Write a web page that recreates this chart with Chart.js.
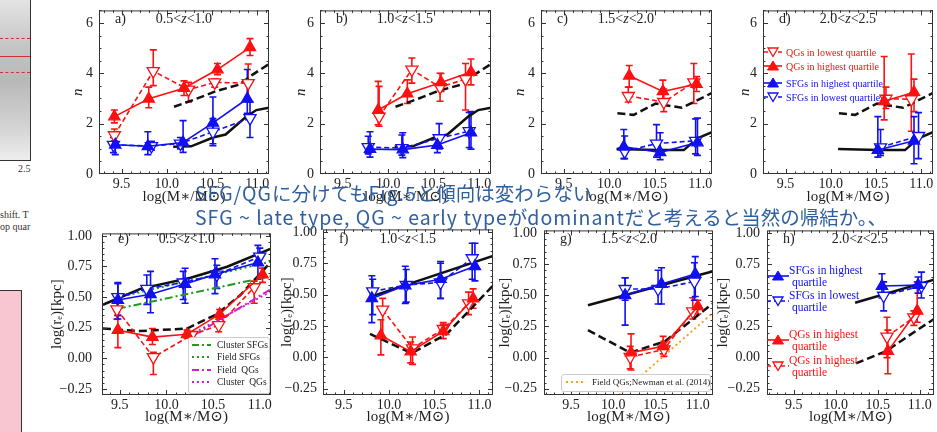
<!DOCTYPE html>
<html>
<head>
<meta charset="utf-8">
<title>Sersic index and size vs stellar mass</title>
<script src="https://cdn.jsdelivr.net/npm/chart.js@4.4.1/dist/chart.umd.min.js"></script>
<style>
  body { margin: 0; background: #fff; }
  #page { position: relative; width: 937px; height: 432px; overflow: hidden; font-family: "Liberation Serif", "DejaVu Serif", serif; color: #222; }
  #page canvas { position: absolute; }
  .tag { position: absolute; font-size: 14px; line-height: 14px; white-space: nowrap; }
  .leg { position: absolute; white-space: nowrap; }
  .row { position: absolute; display: flex; align-items: center; }
  .note { position: absolute; left: 195px; font-family: "Noto Sans CJK JP", sans-serif; font-size: 19.5px; line-height: 22px; color: #2f5f9f; white-space: nowrap; }
  .note .lat { letter-spacing: 1px; }
  .side { position: absolute; font-size: 10px; color: #333; white-space: nowrap; }
</style>
</head>
<body>
<div id="page"></div>
<script>
// tick labels
const massTicks = [9.5, 10.0, 10.5, 11.0];
const nTicks = [0, 2, 4, 6];
const reTicks = [-0.25, 0, 0.25, 0.5, 0.75, 1.0];

// rows: [log M*, value, lower, upper]
// Sersic index n
const a_qgHigh = [[9.42, 2.28, 2.03, 2.54], [9.80, 2.99, 2.63, 3.45], [10.19, 3.41, 3.12, 3.70], [10.56, 4.15, 3.95, 4.39], [10.92, 5.03, 4.71, 5.38]];
const a_qgLow = [[9.42, 1.54, 1.32, 1.79], [9.85, 4.09, 3.51, 4.93], [10.24, 3.35, 2.86, 3.64], [10.53, 3.64, 3.45, 3.77], [10.90, 3.61, 2.86, 4.37]];
const a_sfgHigh = [[9.43, 1.16, 0.77, 1.64], [9.79, 1.10, 0.77, 1.68], [10.18, 1.25, 0.86, 2.12], [10.51, 2.03, 1.12, 3.06], [10.89, 2.99, 2.41, 4.15]];
const a_sfgLow = [[9.41, 1.16, 0.85, 1.45], [9.83, 1.11, 0.95, 1.30], [10.15, 1.21, 1.00, 1.45], [10.51, 1.68, 1.20, 2.20], [10.92, 2.22, 1.45, 2.86]];

const b_qgHigh = [[9.89, 2.54, 1.95, 3.68], [10.21, 3.19, 2.80, 3.74], [10.58, 3.64, 3.28, 3.99], [10.91, 4.05, 3.54, 4.57]];
const b_qgLow = [[9.90, 2.28, 1.90, 3.48], [10.26, 4.15, 3.61, 4.61], [10.57, 3.45, 2.89, 4.00], [10.85, 3.77, 2.54, 4.39]];
const b_sfgHigh = [[9.80, 0.99, 0.67, 1.68], [10.16, 0.97, 0.65, 1.64], [10.54, 1.15, 0.85, 1.55], [10.91, 1.64, 0.99, 2.48]];
const b_sfgLow = [[9.78, 1.07, 0.80, 1.50], [10.15, 1.03, 0.75, 1.55], [10.56, 1.42, 1.00, 2.00], [10.89, 1.70, 1.05, 2.45]];

const c_qgHigh = [[10.22, 3.90, 3.45, 4.31], [10.59, 3.28, 2.86, 3.73], [10.96, 3.57, 3.28, 3.87]];
const c_qgLow = [[10.21, 3.10, 2.86, 3.45], [10.60, 2.86, 2.48, 3.38], [10.93, 3.64, 2.80, 4.39]];
const c_sfgHigh = [[10.16, 1.08, 0.61, 1.77], [10.56, 0.86, 0.57, 1.64], [10.97, 1.25, 0.74, 2.22]];
const c_sfgLow = [[10.17, 0.90, 0.61, 1.51], [10.52, 1.21, 0.67, 1.96], [10.95, 1.32, 0.80, 2.19]];

const d_qgHigh = [[10.59, 2.89, 2.15, 4.67], [10.92, 3.25, 2.48, 3.77]];
const d_qgLow = [[10.61, 2.99, 2.60, 3.45], [10.89, 2.97, 1.70, 4.77]];
const d_sfgHigh = [[10.52, 0.95, 0.67, 2.28], [10.92, 1.32, 0.41, 2.28]];
const d_sfgLow = [[10.55, 1.06, 0.74, 1.77], [10.97, 1.51, 0.61, 2.44]];

// reference relations for n
const nLate_ab = [[10.07, 1.08], [10.27, 1.10], [10.51, 1.45], [10.65, 1.57], [10.88, 2.28], [10.99, 2.54], [11.13, 2.63]];
const nEarly_ab = [[10.08, 2.67], [10.30, 2.95], [10.55, 3.30], [10.80, 3.55], [10.95, 3.95], [11.13, 4.37]];
const nLate_cd = [[10.08, 0.99], [10.52, 0.95], [10.82, 0.95], [10.97, 1.42], [11.14, 1.68]];
const nEarly_cd = [[10.09, 2.41], [10.27, 2.35], [10.51, 2.80], [10.80, 2.63], [11.14, 3.24]];

// log(re)
const e_qgHigh = [[9.48, 0.23, 0.087, 0.35], [9.85, 0.173, 0.113, 0.243], [10.22, 0.196, 0.165, 0.23], [10.57, 0.36, 0.32, 0.398], [11.03, 0.684, 0.62, 0.736]];
const e_qgLow = [[9.47, 0.40, 0.32, 0.45], [9.86, 0.009, -0.133, 0.048], [10.27, 0.19, 0.17, 0.21], [10.56, 0.27, 0.217, 0.32], [10.94, 0.58, 0.45, 0.63]];
const e_sfgHigh = [[9.48, 0.476, 0.321, 0.619], [9.83, 0.523, 0.372, 0.71], [10.20, 0.606, 0.45, 0.735], [10.52, 0.684, 0.528, 0.813], [10.98, 0.782, 0.645, 0.922]];
const e_sfgLow = [[9.48, 0.50, 0.35, 0.61], [9.79, 0.567, 0.44, 0.68], [10.18, 0.619, 0.48, 0.71], [10.54, 0.684, 0.57, 0.76], [11.00, 0.83, 0.76, 0.90]];

const f_qgHigh = [[9.91, 0.174, 0.02, 0.30], [10.24, 0.046, -0.044, 0.123], [10.60, 0.208, 0.149, 0.277], [10.93, 0.469, 0.392, 0.546]];
const f_qgLow = [[9.93, 0.38, 0.15, 0.47], [10.26, 0.072, -0.056, 0.162], [10.60, 0.226, 0.187, 0.264], [10.88, 0.431, 0.341, 0.52]];
const f_sfgHigh = [[9.81, 0.47, 0.277, 0.65], [10.18, 0.572, 0.43, 0.726], [10.57, 0.623, 0.469, 0.764], [10.95, 0.726, 0.61, 0.91]];
const f_sfgLow = [[9.82, 0.526, 0.341, 0.623], [10.19, 0.577, 0.44, 0.70], [10.57, 0.597, 0.47, 0.75], [10.92, 0.79, 0.623, 0.91]];

const g_qgHigh = [[10.21, 0.04, -0.10, 0.19], [10.59, 0.09, 0.03, 0.17], [11.00, 0.41, 0.35, 0.46]];
const g_qgLow = [[10.20, 0.005, -0.09, 0.09], [10.60, 0.065, 0.01, 0.13], [10.94, 0.37, 0.31, 0.48]];
const g_sfgHigh = [[10.14, 0.50, 0.26, 0.64], [10.57, 0.59, 0.43, 0.72], [10.97, 0.67, 0.49, 0.81]];
const g_sfgLow = [[10.14, 0.55, 0.46, 0.64], [10.53, 0.55, 0.43, 0.70], [10.96, 0.61, 0.46, 0.76]];

const h_qgHigh = [[10.62, 0.052, -0.13, 0.22], [10.97, 0.375, 0.284, 0.607]];
const h_qgLow = [[10.61, 0.168, 0.0, 0.323], [10.93, 0.323, 0.258, 0.375]];
const h_sfgHigh = [[10.55, 0.574, 0.478, 0.672], [10.98, 0.581, 0.517, 0.646]];
const h_sfgLow = [[10.57, 0.496, 0.375, 0.607], [11.02, 0.574, 0.478, 0.685]];

// reference relations for re
const reLate_e = [[9.32, 0.437], [9.72, 0.567], [10.26, 0.658], [10.65, 0.748], [11.12, 0.896]];
const reEarly_e = [[9.32, 0.243], [9.72, 0.222], [10.22, 0.243], [10.54, 0.36], [10.79, 0.515], [11.12, 0.787]];
const clusterSfg_e = [[9.48, 0.404], [11.12, 0.671]];
const fieldSfg_e = [[9.48, 0.497], [11.12, 0.79]];
const fieldQg_e = [[10.30, 0.19], [11.12, 0.565]];
const clusterQg_e = [[10.30, 0.21], [11.12, 0.545]];
const reLate_f = [[9.79, 0.482], [11.15, 0.808]];
const reEarly_f = [[9.79, 0.187], [10.25, 0.033], [10.64, 0.187], [11.15, 0.572]];
const reLate_g = [[9.70, 0.42], [11.17, 0.69]];
const reEarly_g = [[9.70, 0.22], [10.20, 0.04], [10.61, 0.13], [11.17, 0.43]];
const newman_g = [[10.07, -0.30], [11.18, 0.36]];
const reLate_h = [[10.23, 0.44], [11.17, 0.625]];
const reEarly_h = [[10.24, -0.047], [10.60, 0.052], [10.88, 0.18], [11.17, 0.31]];

const RED = '#ff1010', BLUE = '#1010f0', BLACK = '#111111';
const GREEN = '#1e9a1e', MAGENTA = '#d020d0', ORANGE = '#f5a31a';
const SERIF = '"Liberation Serif", "DejaVu Serif", serif';
const page = document.getElementById('page');

const solid = (d) => ({ d: d, c: BLACK, w: 2.5, dash: [] });
const dashed = (d) => ({ d: d, c: BLACK, w: 2.5, dash: [8, 4] });

// yw: width left of the frame, tp: gap between tick labels and frame
const panels = [
  { tag: 'a)', z: ['0.5', '1.0'], kind: 'n', box: [99, 6, 269, 174], yw: 32, tp: 6, xr: [9.25, 11.13], s: [a_qgHigh, a_qgLow, a_sfgHigh, a_sfgLow], lines: [solid(nLate_ab), dashed(nEarly_ab)] },
  { tag: 'b)', z: ['1.0', '1.5'], kind: 'n', box: [320, 6, 491, 174], yw: 30, tp: 6, xr: [9.25, 11.13], s: [b_qgHigh, b_qgLow, b_sfgHigh, b_sfgLow], lines: [solid(nLate_ab), dashed(nEarly_ab)] },
  { tag: 'c)', z: ['1.5', '2.0'], kind: 'n', box: [541, 6, 712, 174], yw: 32, tp: 6, xr: [9.25, 11.13], s: [c_qgHigh, c_qgLow, c_sfgHigh, c_sfgLow], lines: [solid(nLate_cd), dashed(nEarly_cd)] },
  { tag: 'd)', z: ['2.0', '2.5'], kind: 'n', box: [763, 6, 933, 174], yw: 29, tp: 6, xr: [9.25, 11.13], s: [d_qgHigh, d_qgLow, d_sfgHigh, d_sfgLow], lines: [solid(nLate_cd), dashed(nEarly_cd)] },
  { tag: 'e)', z: ['0.5', '1.0'], kind: 're', box: [102, 225, 271, 395], yw: 56, tp: 10, xr: [9.31, 11.12], s: [e_qgHigh, e_qgLow, e_sfgHigh, e_sfgLow],
    lines: [solid(reLate_e), dashed(reEarly_e),
      { d: clusterSfg_e, c: GREEN, w: 2, dash: [8, 3, 2, 3] }, { d: fieldSfg_e, c: GREEN, w: 2, dash: [2, 3] },
      { d: fieldQg_e, c: MAGENTA, w: 2, dash: [8, 3, 2, 3] }, { d: clusterQg_e, c: MAGENTA, w: 2, dash: [2, 3] }] },
  { tag: 'f)', z: ['1.0', '1.5'], kind: 're', box: [323, 225, 493, 395], yw: 47, tp: 6, xr: [9.27, 11.15], s: [f_qgHigh, f_qgLow, f_sfgHigh, f_sfgLow], lines: [solid(reLate_f), dashed(reEarly_f)] },
  { tag: 'g)', z: ['1.5', '2.0'], kind: 're', box: [544, 225, 713, 395], yw: 50, tp: 7, xr: [9.18, 11.18], s: [g_qgHigh, g_qgLow, g_sfgHigh, g_sfgLow],
    lines: [solid(reLate_g), dashed(reEarly_g), { d: newman_g, c: ORANGE, w: 2, dash: [2, 3] }] },
  { tag: 'h)', z: ['2.0', '2.5'], kind: 're', box: [767, 225, 934, 395], yw: 55, tp: 7, xr: [9.18, 11.17], s: [h_qgHigh, h_qgLow, h_sfgHigh, h_sfgLow], lines: [solid(reLate_h), dashed(reEarly_h)], zoff: 93 }
];

// error bars, frame and inward ticks
const panelDecor = {
  id: 'panelDecor',
  beforeDatasetsDraw(chart, args, opts) {
    const { ctx, chartArea: a, scales: { x, y } } = chart;
    ctx.save();
    ctx.beginPath();
    ctx.rect(a.left, a.top, a.right - a.left, a.bottom - a.top);
    ctx.clip();
    ctx.lineWidth = 1.6;
    opts.errs.forEach(e => {
      ctx.strokeStyle = e.color;
      e.rows.forEach(r => {
        const px = x.getPixelForValue(r[0]);
        const lo = y.getPixelForValue(r[2]), hi = y.getPixelForValue(r[3]);
        ctx.beginPath();
        ctx.moveTo(px, lo); ctx.lineTo(px, hi);
        ctx.moveTo(px - 3.5, lo); ctx.lineTo(px + 3.5, lo);
        ctx.moveTo(px - 3.5, hi); ctx.lineTo(px + 3.5, hi);
        ctx.stroke();
      });
    });
    ctx.restore();
  },
  afterDraw(chart, args, opts) {
    const { ctx, chartArea: a, scales: { x, y } } = chart;
    ctx.save();
    ctx.strokeStyle = '#333';
    ctx.lineWidth = 1;
    ctx.beginPath();
    const tick = (v, len, axis) => {
      if (axis === 'x') {
        const p = Math.round(x.getPixelForValue(v)) + 0.5;
        if (p <= a.left || p >= a.right) return;
        ctx.moveTo(p, a.bottom); ctx.lineTo(p, a.bottom - len);
        ctx.moveTo(p, a.top); ctx.lineTo(p, a.top + len);
      } else {
        const p = Math.round(y.getPixelForValue(v)) + 0.5;
        if (p <= a.top || p >= a.bottom) return;
        ctx.moveTo(a.left, p); ctx.lineTo(a.left + len, p);
        ctx.moveTo(a.right, p); ctx.lineTo(a.right - len, p);
      }
    };
    for (let i = 90; i <= 112; i++) tick(i / 10, i % 5 === 0 ? 5 : 2.5, 'x');
    if (opts.kind === 'n') {
      for (let i = 0; i <= 13; i++) tick(i / 2, i % 4 === 0 ? 5 : 2.5, 'y');
    } else {
      for (let i = -6; i <= 20; i++) tick(i / 20, i % 5 === 0 ? 5 : 2.5, 'y');
    }
    ctx.stroke();
    ctx.strokeRect(a.left + 0.5, a.top + 0.5, a.right - a.left - 1, a.bottom - a.top - 1);
    ctx.restore();
  }
};

function markerSet(rows, color, open, order) {
  return {
    data: rows.map(r => ({ x: r[0], y: r[1] })),
    borderColor: color,
    backgroundColor: open ? '#fff' : color,
    borderWidth: 1.6,
    borderDash: open ? [5, 3] : [],
    pointStyle: 'triangle',
    pointRotation: open ? 180 : 0,
    pointRadius: open ? 7 : 6.5,
    pointBorderWidth: 1.3,
    pointBorderColor: color,
    pointBackgroundColor: open ? '#fff' : color,
    tension: 0,
    order: order
  };
}

function makePanel(p) {
  const isN = p.kind === 'n';
  const YW = p.yw, XH = isN ? 34 : 33, PT = 10, PR = 14;
  const [l, t, r, b] = p.box;
  const cv = document.createElement('canvas');
  const w = r - l + YW + PR, h = b - t + PT + XH;
  cv.width = w; cv.height = h;
  cv.style.left = (l - YW) + 'px';
  cv.style.top = (t - PT) + 'px';
  cv.style.width = w + 'px';
  cv.style.height = h + 'px';
  page.appendChild(cv);

  const [qgHigh, qgLow, sfgHigh, sfgLow] = p.s;
  const datasets = [
    markerSet(qgHigh, RED, false, 1),
    markerSet(sfgHigh, BLUE, false, 1),
    markerSet(qgLow, RED, true, 2),
    markerSet(sfgLow, BLUE, true, 2)
  ];
  p.lines.forEach(ln => datasets.push({
    data: ln.d.map(q => ({ x: q[0], y: q[1] })),
    borderColor: ln.c, borderWidth: ln.w, borderDash: ln.dash,
    pointRadius: 0, tension: 0, order: 10
  }));

  new Chart(cv, {
    type: 'line',
    data: { datasets: datasets },
    options: {
      responsive: false,
      animation: false,
      devicePixelRatio: 1,
      layout: { padding: { top: PT, right: PR, left: 0, bottom: 0 } },
      plugins: {
        legend: { display: false },
        tooltip: { enabled: false },
        panelDecor: {
          kind: p.kind,
          errs: [
            { rows: qgHigh, color: RED }, { rows: qgLow, color: RED },
            { rows: sfgHigh, color: BLUE }, { rows: sfgLow, color: BLUE }
          ]
        }
      },
      scales: {
        x: {
          type: 'linear', min: p.xr[0], max: p.xr[1],
          grid: { display: false, drawTicks: false }, border: { display: false },
          afterBuildTicks: s => { s.ticks = massTicks.map(v => ({ value: v })); },
          afterFit: s => { s.height = XH; },
          ticks: { font: { family: SERIF, size: 14 }, color: '#222', padding: 2, maxRotation: 0, autoSkip: false, callback: v => v.toFixed(1) },
          title: { display: true, text: 'log(M\u2217/M\u2299)', font: { family: SERIF, size: 15 }, color: '#222', padding: { top: 0, bottom: 2 } }
        },
        y: {
          type: 'linear', min: isN ? 0 : -0.30, max: isN ? 6.5 : 1.02,
          grid: { display: false, drawTicks: false }, border: { display: false },
          afterBuildTicks: s => { s.ticks = (isN ? nTicks : reTicks).map(v => ({ value: v })); },
          afterFit: s => { s.width = YW; },
          ticks: {
            font: { family: SERIF, size: 14 }, color: '#222', padding: p.tp, autoSkip: false,
            callback: v => isN ? String(v) : (v < 0 ? '\u2212' : '') + Math.abs(v).toFixed(2)
          },
          title: {
            display: true, text: isN ? 'n' : 'log(r\u2091)[kpc]',
            font: { family: SERIF, size: 15, style: isN ? 'italic' : 'normal' }, color: '#222', padding: { top: 2, bottom: 0 }
          }
        }
      }
    },
    plugins: [panelDecor]
  });

  const tg = document.createElement('div');
  tg.className = 'tag';
  tg.style.left = (l + 16) + 'px';
  tg.style.top = (t + (isN ? 6 : 7)) + 'px';
  tg.textContent = p.tag;
  page.appendChild(tg);

  const zr = document.createElement('div');
  zr.className = 'tag';
  zr.style.left = (l + (p.zoff || 85)) + 'px';
  zr.style.top = (t + (isN ? 6 : 7)) + 'px';
  zr.style.transform = 'translateX(-50%)';
  zr.innerHTML = p.z[0] + '&lt;<i>z</i>&lt;' + p.z[1];
  page.appendChild(zr);
}

panels.forEach(makePanel);

// legends
function glyph(color, open, dash, w) {
  const cx = w / 2;
  const tri = open
    ? `<polygon points="${cx - 5},2 ${cx + 5},2 ${cx},10.5" fill="#fff" stroke="${color}" stroke-width="1.3"/>`
    : `<polygon points="${cx},1 ${cx + 5.5},10 ${cx - 5.5},10" fill="${color}" stroke="${color}" stroke-width="1"/>`;
  return `<svg width="${w}" height="12" style="flex:none"><line x1="0" y1="6" x2="${w}" y2="6" stroke="${color}" stroke-width="1.6" ${dash ? 'stroke-dasharray="4 3"' : ''}/>${tri}</svg>`;
}
function lineGlyph(color, dash, w) {
  return `<svg width="${w}" height="8" style="flex:none"><line x1="0" y1="4" x2="${w}" y2="4" stroke="${color}" stroke-width="2" stroke-dasharray="${dash}"/></svg>`;
}
function addRow(html, left, top, size, color) {
  const d = document.createElement('div');
  d.className = 'row';
  d.style.left = left + 'px';
  d.style.top = top + 'px';
  d.style.fontSize = size + 'px';
  d.style.color = color;
  d.innerHTML = html;
  page.appendChild(d);
  return d;
}

// panel d
[
  ['QGs in lowest quartile', RED, true, 46],
  ['QGs in highest quartile', RED, false, 60],
  ['SFGs in highest quartile', BLUE, false, 77],
  ['SFGs in lowest quartile', BLUE, true, 91]
].forEach(r => addRow(glyph(r[1], r[2], r[2], 18) + `<span style="margin-left:4px">${r[0]}</span>`, 764, r[3], 10, r[1]));

// panel h
[
  ['SFGs in highest', BLUE, false, 264],
  ['SFGs in lowest', BLUE, true, 289],
  ['QGs in highest', RED, false, 328],
  ['QGs in highest', RED, true, 354]
].forEach(r => {
  addRow(glyph(r[1], r[2], r[2], 22) + `<span style="margin-left:0px;line-height:12px">${r[0]}<br>&nbsp;quartile</span>`, 767, r[3], 11.5, r[1]);
});

// panel e
const legE = document.createElement('div');
legE.className = 'leg';
Object.assign(legE.style, { left: '188px', top: '337px', width: '80px', height: '55px', background: 'rgba(255,255,255,0.9)', border: '1px solid #ccc', borderRadius: '3px' });
page.appendChild(legE);
[
  ['Cluster SFGs', GREEN, '7 3 2 3', 340],
  ['Field SFGs', GREEN, '2 3', 352],
  ['Field\u00a0 QGs', MAGENTA, '7 3 2 3', 365],
  ['Cluster\u00a0 QGs', MAGENTA, '2 3', 377]
].forEach(r => addRow(lineGlyph(r[1], r[2], 19) + `<span style="margin-left:6px;color:#222">${r[0]}</span>`, 192, r[3], 9.5, '#222'));

// panel g
const legG = document.createElement('div');
legG.className = 'leg';
Object.assign(legG.style, { left: '561px', top: '374px', width: '148px', height: '16px', background: 'rgba(255,255,255,0.9)', border: '1px solid #ccc', borderRadius: '3px' });
page.appendChild(legG);
addRow(lineGlyph(ORANGE, '2 3', 20) + '<span style="margin-left:6px;color:#222">Field QGs;Newman et al. (2014)</span>', 566, 377, 9, '#222');

// strip of the neighbouring figure on the left
const strip = [
  'left:0;top:0;width:30px;height:160px;background:linear-gradient(to bottom,#e4e4e4,#c4c4c4 30%,#b8b8b8 50%,#d4d4d4 80%,#eeeeee);border-right:1px solid #333;border-bottom:1px solid #333',
  'left:0;top:38px;width:30px;height:0;border-top:1.5px dashed #d23030',
  'left:0;top:56px;width:30px;height:0;border-top:1.5px solid #d23030',
  'left:0;top:72px;width:30px;height:0;border-top:1.5px dashed #d23030',
  'left:0;top:290px;width:21px;height:142px;background:#f8c6d0;border-right:1px solid #333;border-top:1px solid #333'
];
strip.forEach(s => {
  const d = document.createElement('div');
  d.style.cssText = 'position:absolute;' + s;
  page.appendChild(d);
});
[['2.5', 18, 163], ['shift. T', 0, 209], ['op quar', 0, 221]].forEach(s => {
  const d = document.createElement('div');
  d.className = 'side';
  d.style.left = s[1] + 'px';
  d.style.top = s[2] + 'px';
  d.textContent = s[0];
  page.appendChild(d);
});

// overlaid note; latin runs get a little extra spacing
[['SFG/QGに分けてもFig.5と傾向は変わらない', 182], ['SFG ~ late type, QG ~ early typeがdominantだと考えると当然の帰結か。、', 206]].forEach(n => {
  const d = document.createElement('div');
  d.className = 'note';
  d.style.top = n[1] + 'px';
  n[0].split(/([\x20-\x7e]+)/).forEach(part => {
    if (!part) return;
    const sp = document.createElement('span');
    if (/^[\x20-\x7e]+$/.test(part)) sp.className = 'lat';
    sp.textContent = part;
    d.appendChild(sp);
  });
  page.appendChild(d);
});
</script>
</body>
</html>
